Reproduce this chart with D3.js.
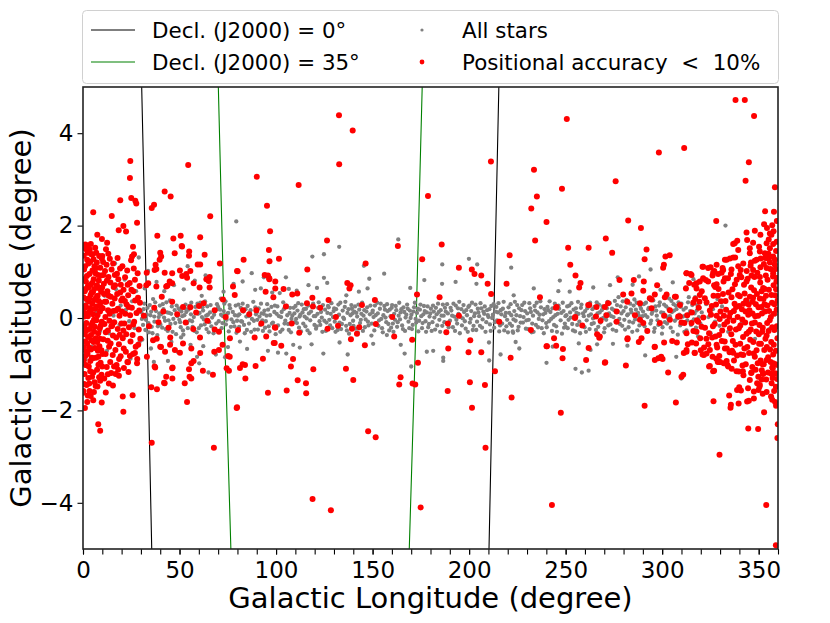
<!DOCTYPE html>
<html>
<head>
<meta charset="utf-8">
<script src="https://cdn.jsdelivr.net/npm/d3@7"></script>
<style>
  body { margin: 0; background: #fff; }
  text { font-family: "DejaVu Sans", sans-serif; fill: #000; }
</style>
</head>
<body>
<div id="chart"></div>
<script>
// Declination curves in galactic coordinates [l, b]
const decl0A = [[30.4, 5], [33.1, 0], [35.6, -5]];
const decl0B = [[215.4, 5], [212.8, 0], [210.3, -5]];
const decl35A = [[70.1, 5], [73.1, 0], [76.6, -5]];
const decl35B = [[175.7, 5], [172.6, 0], [169.0, -5]];

const xTicks = [0, 50, 100, 150, 200, 250, 300, 350];
const xMinorTicks = d3.range(0, 361, 10);
const yTicks = [-4, -2, 0, 2, 4];

// All stars [l, b]
const allStars = [
  [2.1,0.35],[4.5,-0.62],[6.8,0.12],[8.9,-0.28],[1.3,-0.9],[7.6,0.71],
  [11.2,0.48],[13.5,-0.33],[15.8,0.05],[17.1,0.62],[18.9,-0.15],[12.4,-0.71],[16.6,1.18],[19.5,0.27],
  [20.8,-0.41],[22.3,0.18],[23.9,-0.07],[25.4,0.36],[26.7,-0.22],[28.1,0.09],[29.3,-0.52],[21.6,0.83],[27.5,0.58],[24.6,-0.88],[28.9,1.31],
  [30.2,0.12],[31.1,-0.15],[31.8,0.31],[32.6,-0.04],[33.4,0.22],[34.1,-0.31],[34.9,0.06],[35.6,-0.19],[36.3,0.41],[37.0,-0.08],[37.8,0.15],[38.5,-0.37],[39.2,0.02],[39.8,0.27],[32.0,0.64],[35.2,-0.66],[38.1,0.78],[36.7,-0.95],[33.7,1.02],[30.7,-0.47],
  [30.5,-0.02],[31.4,0.19],[32.3,-0.26],[33.0,0.08],[33.9,-0.11],[34.6,0.28],[35.3,0.14],[36.0,-0.33],[36.9,0.03],[37.4,0.34],[38.8,-0.18],[39.5,0.1],
  [40.4,0.08],[41.0,-0.21],[41.7,0.19],[42.5,-0.06],[43.2,0.34],[43.9,-0.28],[44.6,0.11],[45.3,-0.13],[46.0,0.25],[46.8,-0.02],[47.5,0.17],[48.2,-0.35],[48.9,0.04],[49.6,0.21],[42.1,0.58],[45.8,-0.52],[47.1,0.71],[49.2,-0.74],[44.0,-0.93],[40.9,0.45],
  [40.1,-0.14],[41.3,0.3],[42.0,0.01],[42.8,-0.24],[43.6,0.12],[44.3,-0.05],[45.0,0.38],[45.7,0.09],[46.4,-0.3],[47.8,-0.11],[48.5,0.27],[49.9,-0.04],
  [50.3,-0.09],[51.0,0.14],[51.8,-0.27],[52.5,0.06],[53.1,0.29],[53.9,-0.11],[54.6,0.18],[55.3,-0.05],[56.1,0.33],[56.8,-0.19],[57.4,0.02],[58.2,0.24],[58.9,-0.31],[59.6,0.09],[52.2,0.62],[55.7,-0.58],[57.9,0.81],[59.1,-0.84],[54.2,1.12],[50.8,-0.42],
  [50.0,0.18],[50.6,-0.2],[51.4,0.04],[52.0,-0.36],[52.8,0.21],[53.5,0.13],[54.3,-0.22],[55.0,0.26],[55.9,0.08],[56.5,-0.07],[57.7,-0.28],[59.3,0.31],
  [60.4,0.11],[61.1,-0.16],[61.9,0.23],[62.6,-0.03],[63.2,0.36],[64.0,-0.24],[64.7,0.07],[65.4,-0.09],[66.1,0.28],[66.9,0.01],[67.6,-0.33],[68.3,0.15],[69.0,-0.12],[69.7,0.19],[62.3,-0.61],[65.9,0.66],[68.8,-0.79],[63.5,0.92],[65.0,-1.18],[60.2,-0.98],[61.5,0.48],
  [60.0,-0.22],[60.8,0.33],[61.6,0.02],[62.2,0.16],[63.0,-0.14],[63.8,0.05],[64.4,0.25],[65.1,-0.31],[65.8,0.12],[66.5,-0.18],[67.9,0.07],[69.4,0.3],
  [70.3,-0.07],[71.0,0.18],[71.8,-0.22],[72.5,0.04],[73.2,0.31],[74.0,-0.14],[74.7,0.09],[75.5,-0.29],[76.2,0.21],[76.9,-0.03],[77.6,0.13],[78.4,-0.18],[79.1,0.27],[79.8,-0.06],[72.8,0.57],[75.1,-0.63],[78.0,0.74],[73.6,-0.85],[79.4,2.09],[71.4,0.42],
  [70.0,0.24],[70.7,-0.29],[71.5,0.07],[72.2,-0.11],[72.9,0.15],[73.8,0.36],[74.4,-0.04],[75.2,0.11],[75.9,0.28],[76.6,-0.19],[77.9,-0.09],[78.7,0.06],[79.5,-0.32],
  [80.2,0.05],[80.9,-0.19],[81.7,0.22],[82.4,-0.08],[83.1,0.14],[83.8,-0.33],[84.6,0.03],[85.3,0.26],[86.0,-0.12],[86.8,0.17],[87.5,-0.02],[88.2,0.35],[88.9,-0.25],[89.6,0.08],[82.7,0.79],[87.4,0.97],[85.0,-0.67],[89.2,0.61],[81.3,-0.51],
  [80.5,0.29],[81.0,0.08],[81.9,-0.07],[82.7,0.31],[83.4,-0.15],[84.2,0.19],[84.9,-0.26],[85.7,0.04],[86.4,0.11],[87.1,-0.3],[88.5,-0.06],[89.3,0.23],
  [90.3,-0.04],[91.0,0.21],[91.8,-0.15],[92.5,0.1],[93.2,-0.28],[94.0,0.16],[94.7,-0.07],[95.4,0.3],[96.2,-0.18],[96.9,0.06],[97.6,0.24],[98.4,-0.1],[99.1,0.13],[99.8,-0.35],[92.1,0.64],[95.8,-0.71],[98.0,0.55],[93.7,0.88],
  [90.0,0.12],[90.6,-0.25],[91.4,0.03],[92.2,0.31],[92.9,-0.05],[93.6,0.09],[94.3,-0.21],[95.1,0.05],[95.9,0.18],[96.6,-0.29],[97.9,-0.12],[99.4,0.27],
  [100.3,0.09],[101.0,-0.16],[101.9,0.54],[102.6,0.02],[103.3,-0.25],[104.0,0.19],[104.8,-0.06],[105.1,0.88],[105.5,0.27],[106.2,-0.13],[107.0,0.11],[107.7,-0.31],[108.4,0.05],[109.1,0.22],[109.8,-0.09],[101.0,-0.75],[105.3,-0.77],[106.6,0.63],[108.9,-0.58],
  [100.0,-0.21],[100.7,0.25],[101.5,0.04],[102.2,-0.3],[102.9,0.13],[103.7,0.34],[104.4,-0.12],[105.8,0.06],[106.6,-0.26],[107.3,0.22],[108.0,-0.02],[109.5,0.1],
  [110.7,0.59],[110.4,-0.02],[111.1,0.16],[111.9,-0.21],[112.6,0.07],[113.3,0.29],[114.1,-0.12],[114.8,0.03],[115.5,0.2],[116.3,-0.27],[117.0,0.1],[117.7,-0.05],[118.4,-0.57],[118.8,1.33],[119.2,0.31],[119.9,-0.15],[112.3,-0.64],[116.8,0.71],
  [110.1,0.26],[110.8,-0.11],[111.5,0.32],[112.2,0.03],[112.9,-0.29],[113.7,0.12],[114.4,0.19],[115.2,-0.18],[115.9,-0.01],[116.7,0.27],[117.4,-0.33],[118.1,0.14],[119.6,0.04],
  [120.3,0.04],[121.2,0.65],[121.0,-0.18],[121.8,0.22],[122.5,-0.07],[123.3,0.13],[124.0,-0.3],[124.5,-0.77],[124.8,1.38],[124.8,0.87],[125.4,0.18],[126.1,-0.1],[126.5,0.76],[126.9,0.26],[127.6,-0.04],[128.3,0.09],[129.1,-0.22],[129.8,0.15],
  [120.7,-0.23],[121.5,0.09],[122.1,0.34],[122.9,-0.15],[123.7,0.01],[124.3,0.28],[125.0,-0.06],[125.8,-0.28],[126.6,0.11],[127.3,0.23],[128.0,-0.16],[128.7,0.32],[129.5,0.02],
  [130.4,-0.08],[131.1,0.19],[131.9,-0.26],[132.7,1.54],[132.9,-0.53],[132.6,0.07],[133.3,0.33],[134.1,-0.13],[134.8,0.01],[135.6,0.24],[136.4,0.49],[136.3,-0.17],[137.1,-0.79],[137.0,0.11],[137.8,-0.34],[138.6,0.06],[139.3,0.2],[139.9,-0.06],
  [130.1,0.21],[130.8,-0.3],[131.5,0.04],[132.3,0.29],[132.9,-0.1],[133.7,-0.24],[134.5,0.16],[135.2,-0.02],[135.9,0.35],[136.7,-0.27],[137.5,0.19],[138.2,-0.13],[139.0,0.28],[139.6,0.1],
  [140.5,0.14],[141.2,-0.23],[142.0,0.03],[142.9,0.57],[142.7,0.29],[143.5,-0.11],[144.2,0.09],[145.0,-0.28],[145.5,1.13],[145.7,0.17],[146.4,-0.03],[147.2,0.23],[147.4,0.64],[147.9,-0.16],[148.3,0.85],[148.6,0.08],[149.4,-0.38],[149.9,0.12],
  [140.1,-0.17],[140.9,0.25],[141.6,0.11],[142.3,-0.31],[143.1,0.18],[143.9,-0.04],[144.6,0.33],[145.3,0.05],[146.0,-0.2],[146.8,0.14],[147.6,-0.08],[148.9,0.27],[149.6,-0.12],
  [150.3,-0.56],[150.5,0.02],[151.2,0.27],[152.0,-0.14],[152.7,0.1],[153.4,-0.05],[154.2,0.31],[154.9,-0.22],[155.6,0.06],[156.0,0.96],[156.4,0.18],[157.1,-0.09],[157.4,-0.37],[157.8,0.15],[158.6,-0.27],[159.3,0.04],[159.9,0.22],
  [150.1,0.16],[150.9,-0.27],[151.6,0.06],[152.4,0.33],[153.0,-0.17],[153.8,0.2],[154.5,-0.02],[155.3,-0.31],[156.1,0.26],[156.7,0.01],[157.5,0.3],[158.2,-0.13],[158.9,0.18],[159.6,-0.21],
  [160.5,-0.12],[161.2,0.09],[162.0,0.26],[162.7,-0.19],[163.3,1.7],[163.5,0.05],[164.2,-0.03],[164.6,-0.58],[164.9,0.19],[165.7,-0.24],[166.4,0.13],[166.6,-0.77],[167.1,0.01],[167.9,0.29],[168.6,-0.08],[169.3,0.16],[169.5,0.65],[170.0,-1.05],
  [160.1,0.28],[160.8,-0.3],[161.6,-0.04],[162.3,0.17],[163.0,-0.09],[163.8,0.33],[164.5,0.12],[165.3,-0.16],[166.0,0.23],[166.8,-0.28],[167.5,0.07],[168.2,0.2],[169.0,-0.22],[169.7,0.0],
  [170.1,0.07],[170.8,-0.15],[171.5,0.23],[172.3,-0.02],[173.0,0.11],[173.7,-0.29],[174.5,0.18],[175.2,0.04],[175.9,-0.11],[176.8,0.82],[176.6,0.26],[177.4,-0.07],[178.1,-0.73],[178.1,0.12],[178.8,-0.2],[179.5,0.03],
  [170.4,-0.24],[171.1,0.14],[171.9,0.33],[172.6,-0.1],[173.4,0.2],[174.1,-0.06],[174.8,0.29],[175.6,-0.22],[176.3,0.08],[177.0,0.15],[177.7,-0.3],[178.5,0.25],[179.2,-0.13],[179.9,0.1],
  [180.2,0.2],[181.0,-0.09],[181.4,-0.71],[181.7,0.14],[182.4,-0.25],[183.2,0.08],[183.9,0.31],[184.6,-0.04],[185.3,0.17],[186.0,0.74],[186.1,1.16],[186.1,-0.17],[186.6,-0.86],[186.6,-0.93],[186.8,0.05],[187.5,0.22],[188.3,-0.31],[189.0,0.1],
  [180.6,-0.28],[181.3,0.27],[182.0,0.01],[182.8,0.22],[183.5,-0.16],[184.3,0.13],[185.0,-0.3],[185.7,0.05],[186.4,0.29],[187.2,-0.09],[187.9,0.14],[188.6,0.3],[189.4,-0.2],
  [190.1,-0.06],[190.8,0.16],[191.6,-0.2],[192.3,0.03],[193.0,0.78],[193.1,0.27],[193.8,-0.12],[194.5,0.09],[195.2,-0.33],[196.0,0.19],[196.7,-0.01],[197.4,0.13],[198.2,-0.23],[198.9,0.06],[199.6,0.24],[199.9,1.28],
  [190.4,0.22],[191.2,0.05],[191.9,0.31],[192.7,-0.28],[193.4,-0.04],[194.2,0.21],[194.9,0.35],[195.6,0.02],[196.3,-0.16],[197.1,0.28],[197.8,-0.07],[198.5,0.17],[199.3,-0.3],
  [200.4,-0.1],[201.1,0.15],[201.9,-0.26],[202.6,0.04],[203.3,0.29],[203.8,0.74],[204.1,-0.08],[204.2,1.16],[204.8,0.12],[205.6,-0.17],[206.3,0.21],[207.0,-0.03],[207.8,0.09],[208.5,-0.3],[209.3,0.17],[210.3,-0.53],[210.4,-0.92],
  [200.1,0.27],[200.8,-0.02],[201.5,0.33],[202.3,-0.17],[203.0,0.1],[203.7,-0.26],[204.5,0.2],[205.2,0.04],[205.9,0.32],[206.7,-0.21],[207.4,0.14],[208.1,0.25],[208.9,-0.09],[209.7,0.06],
  [210.0,0.02],[210.8,-0.14],[211.5,0.26],[212.3,0.07],[213.0,-0.21],[213.8,0.14],[214.5,-0.05],[215.2,0.32],[216.0,-0.16],[216.3,-0.79],[216.7,0.08],[217.5,0.2],[218.2,-0.27],[219.0,0.11],[219.7,-0.04],
  [210.5,0.19],[211.2,-0.28],[211.9,0.0],[212.7,0.3],[213.4,-0.09],[214.1,0.24],[214.9,0.12],[215.6,-0.29],[216.4,0.17],[217.1,-0.12],[217.9,0.35],[218.6,0.04],[219.3,-0.18],
  [220.4,0.23],[221.1,-0.12],[221.8,1.09],[221.9,0.06],[222.6,-0.29],[222.8,-0.32],[223.1,0.49],[223.4,0.15],[224.1,-0.52],[224.1,-0.06],[224.9,0.28],[225.6,-0.19],[226.0,-0.66],[226.4,0.04],[227.1,0.17],[227.9,-0.1],[228.6,0.33],[229.4,-0.23],
  [220.1,-0.31],[220.8,0.11],[221.5,0.3],[222.2,-0.17],[223.0,-0.03],[223.7,0.35],[224.5,0.06],[225.2,-0.27],[225.9,0.21],[226.7,-0.1],[227.5,0.28],[228.2,0.02],[229.0,0.15],[229.7,-0.05],
  [230.1,0.1],[230.9,-0.04],[231.6,0.21],[232.4,-0.31],[233.1,0.05],[233.9,0.26],[234.6,-0.15],[235.4,0.12],[236.1,-0.02],[236.9,0.36],[237.6,-0.22],[238.4,0.08],[239.1,0.19],[239.9,-0.11],[240.1,-0.97],[233.5,0.64],
  [230.5,-0.24],[231.2,0.32],[232.0,0.13],[232.7,-0.12],[233.4,-0.3],[234.2,0.16],[235.0,0.33],[235.7,-0.2],[236.5,0.07],[237.2,0.23],[238.0,-0.05],[238.7,-0.33],[239.5,0.11],
  [240.6,0.24],[241.4,-0.07],[242.1,0.13],[242.9,-0.28],[243.6,0.02],[244.4,0.31],[245.1,-0.18],[245.9,0.09],[246.6,0.2],[247.0,0.81],[247.4,-0.05],[248.1,-0.34],[248.9,0.15],[249.6,-0.12],[243.3,-0.62],[246.2,0.58],
  [240.2,-0.2],[241.0,0.17],[241.7,0.36],[242.5,-0.02],[243.2,0.21],[244.0,-0.15],[244.7,0.06],[245.5,-0.3],[246.3,0.27],[247.8,0.11],[248.5,0.33],[249.2,-0.21],[249.9,0.04],
  [250.4,0.06],[251.1,-0.22],[251.9,0.27],[252.6,0.01],[253.4,-0.13],[254.1,0.18],[254.9,-0.29],[255.1,-1.1],[255.6,0.11],[256.4,0.35],[257.1,-0.08],[257.9,0.22],[258.4,-1.18],[258.6,-0.17],[259.4,0.04],[252.1,0.57],[256.8,-0.55],
  [250.0,-0.19],[250.8,0.25],[251.5,-0.04],[252.3,0.12],[253.0,0.32],[253.8,-0.27],[254.5,0.03],[255.3,0.21],[256.0,-0.15],[256.7,0.09],[257.5,-0.33],[258.2,0.29],[259.0,0.1],[259.8,-0.2],
  [260.1,0.15],[260.9,-0.05],[261.6,0.29],[261.9,-1.14],[262.4,-0.24],[262.9,-0.69],[263.1,0.08],[263.9,0.19],[264.6,-0.11],[265.4,0.03],[266.1,0.34],[266.3,-0.57],[266.9,-0.19],[267.6,0.12],[268.4,-0.02],[269.1,0.25],[269.9,-0.31],[264.3,0.66],
  [260.5,-0.3],[261.2,0.21],[262.0,0.05],[262.7,0.33],[263.5,-0.13],[264.2,-0.01],[264.9,0.24],[265.7,-0.26],[266.5,0.1],[267.2,0.29],[268.0,-0.1],[268.7,0.17],[269.5,0.0],
  [270.6,0.07],[271.4,0.21],[272.1,-0.16],[272.9,0.32],[273.6,0.04],[274.4,-0.25],[274.5,-0.56],[275.1,0.17],[275.9,-0.08],[276.6,0.28],[277.4,0.45],[278.1,-0.13],[278.9,0.1],[279.6,0.36],[273.0,0.71],[277.0,0.88],
  [270.2,-0.22],[271.0,-0.04],[271.7,0.35],[272.5,0.1],[273.2,-0.14],[274.0,0.2],[274.8,0.02],[275.5,0.37],[276.2,-0.28],[277.0,0.14],[277.8,-0.02],[278.5,0.25],[279.3,-0.17],
  [280.4,-0.04],[281.1,0.23],[281.9,0.06],[282.0,-0.6],[282.6,-0.2],[283.4,0.31],[284.1,0.12],[284.9,-0.1],[285.6,0.4],[286.4,0.18],[287.1,-0.27],[287.9,0.05],[288.6,0.26],[289.4,-0.07],[284.7,0.72],[288.0,0.9],
  [280.0,0.15],[280.8,-0.25],[281.5,0.39],[282.3,0.08],[283.0,-0.08],[283.8,0.18],[284.5,-0.3],[285.2,0.27],[286.0,-0.03],[286.8,0.33],[287.5,0.11],[288.2,-0.16],[289.0,0.2],[289.8,0.04],
  [290.1,0.14],[290.9,-0.18],[291.2,-0.81],[291.6,0.33],[292.4,0.02],[293.1,0.22],[293.9,-0.12],[294.0,1.05],[294.6,0.09],[295.4,0.38],[296.1,-0.22],[296.9,0.16],[297.6,-0.05],[298.4,0.27],[299.1,0.61],[299.9,-0.34],
  [290.5,0.3],[291.3,0.06],[292.0,-0.26],[292.8,0.19],[293.5,0.41],[294.3,-0.06],[295.0,0.14],[295.8,-0.3],[296.5,0.25],[297.2,0.05],[298.0,-0.15],[298.8,0.34],[299.5,0.12],
  [300.6,0.11],[301.4,-0.09],[302.1,0.25],[302.9,-1.18],[302.9,0.0],[303.6,0.42],[304.4,-0.21],[305.1,0.13],[305.9,0.3],[306.6,-0.06],[307.3,-0.84],[307.4,0.19],[308.1,-0.36],[308.9,0.07],[309.6,0.24],[309.9,-1.31],[305.5,0.77],
  [300.2,-0.2],[301.0,0.29],[301.8,0.05],[302.5,-0.12],[303.2,0.2],[304.0,0.04],[304.8,0.37],[305.5,-0.3],[306.2,0.16],[307.0,0.27],[307.8,-0.01],[308.5,0.34],[309.3,-0.16],
  [310.4,-0.12],[311.1,0.18],[311.9,0.05],[312.6,-0.27],[313.4,0.34],[314.1,0.1],[314.9,-0.15],[315.6,0.28],[316.4,-0.03],[317.1,0.45],[317.9,0.16],[318.6,-0.4],[319.4,0.22],[316.2,0.84],[312.2,0.66],
  [310.0,0.31],[310.8,0.03],[311.5,-0.3],[312.3,0.22],[313.0,-0.05],[313.8,0.45],[314.5,0.15],[315.3,-0.08],[316.0,0.35],[316.8,0.1],[317.5,-0.21],[318.2,0.28],[319.0,0.02],[319.8,-0.12],
  [320.5,0.12],[321.6,-0.21],[322.8,0.3],[324.0,0.02],[325.1,-0.33],[326.3,0.19],[327.4,-0.08],[328.6,0.41],[329.7,-0.17],[332.8,2.0],
  [331.0,0.25],[334.2,-0.3],[337.5,0.14],[341.0,-0.12],[344.6,0.35],[348.1,-0.45],[352.0,0.2],[355.5,-0.24],[358.7,0.08]
];

// Stars with positional accuracy < 10% [l, b]
const accurateStars = [
  // l 0-30 core
  [0.3,0.12],[0.6,-0.35],[0.9,0.58],[1.2,-0.82],[1.4,0.27],[1.7,-0.11],[2.0,0.91],[2.2,-0.56],[2.5,0.04],[2.8,1.18],[3.0,-1.05],[3.3,0.43],[3.6,-0.24],[3.9,0.72],[4.1,-0.68],[4.4,0.19],[4.7,-1.27],[4.9,1.03],[0.4,1.35],[0.8,-1.21],
  [1.5,0.79],[2.6,-0.41],[3.1,0.36],[3.8,-0.93],[4.5,0.55],[0.2,-0.63],[1.1,1.12],[1.9,-1.45],[2.9,0.66],[4.2,-0.15],[0.5,0.84],[3.4,-1.58],[1.6,-0.72],[4.8,0.31],[2.4,1.41],[0.7,0.03],[3.7,1.21],[1.3,-0.29],[0.1,-1.62],[4.3,-0.48],
  [0.15,0.45],[0.35,-0.92],[0.55,1.05],[0.75,-0.18],[0.95,0.22],[1.15,-0.51],[1.35,0.63],[1.55,-1.02],[1.75,0.41],[1.95,-0.26],[2.15,1.26],[2.35,-0.78],[2.55,0.69],[2.75,-1.3],[2.95,0.12],[3.15,-0.64],[3.35,0.95],[3.55,0.21],[3.75,-1.15],[3.95,0.5],[4.15,-0.37],[4.35,1.38],[4.55,-0.86],[4.75,0.76],[4.95,-0.1],
  [0.25,1.52],[1.85,1.48],[3.25,-1.42],[0.65,-1.43],[5.65,-1.6],[6.85,1.41],[2.45,-1.68],[4.05,1.6],
  [5.2,0.08],[5.5,-0.52],[5.8,0.63],[6.1,-0.19],[6.4,0.97],[6.7,-0.86],[7.0,0.25],[7.3,-1.12],[7.6,0.48],[7.9,-0.33],[8.2,0.81],[8.5,-0.61],[8.8,0.14],[9.1,-0.97],[9.4,0.57],[9.7,-0.08],[5.4,1.27],[6.0,-1.39],
  [6.9,1.08],[7.7,-0.71],[8.4,1.34],[9.0,0.33],[9.6,-1.23],[5.9,0.39],[6.6,-0.44],[8.0,-1.01],[9.3,0.92],[5.1,-0.87],[7.2,0.71],[8.7,-0.22],[6.3,1.52],[9.9,0.66],[7.5,-1.48],[5.7,-0.04],[8.9,-1.36],
  [5.15,0.56],[5.35,-1.18],[5.55,0.84],[5.75,-0.3],[5.95,1.12],[6.15,-0.65],[6.35,0.2],[6.55,-1.47],[6.75,0.44],[6.95,-0.05],[7.15,1.2],[7.35,-0.52],[7.55,0.06],[7.75,0.93],[7.95,-0.84],[8.15,0.37],[8.35,-1.28],[8.55,0.64],[8.75,-0.45],[8.95,1.09],[9.15,-0.17],[9.35,0.23],[9.55,-0.7],[9.75,1.29],[9.95,-1.05],
  [10.2,0.21],[10.5,-0.46],[10.8,0.74],[11.1,-0.13],[11.4,1.02],[11.7,-0.78],[12.0,0.35],[12.3,-1.06],[12.6,0.58],[12.9,-0.27],[13.2,0.89],[13.5,-0.62],[13.8,0.09],[14.1,-0.95],[14.4,0.46],[14.7,-0.18],
  [10.4,1.21],[11.0,-1.31],[12.2,1.15],[13.0,0.17],[13.9,1.28],[14.6,-1.19],[10.9,0.52],[12.8,-0.49],[14.2,0.77],[11.6,0.02],[13.4,-1.42],[11.9,1.49],
  [10.1,-0.78],[10.6,0.93],[11.3,0.35],[11.8,-0.31],[12.4,0.81],[12.9,-1.22],[13.3,0.48],[13.7,-0.06],[14.3,-0.55],[14.8,1.05],
  [15.2,0.31],[15.5,-0.38],[15.9,0.67],[16.2,-0.09],[16.5,0.93],[16.8,-0.69],[17.1,0.16],[17.4,-1.02],[17.7,0.52],[18.0,-0.24],[18.3,0.84],[18.6,-0.57],[18.9,0.05],[19.2,1.07],[19.5,-0.83],[19.8,0.38],
  [15.6,1.18],[16.9,-1.21],[17.9,1.3],[19.0,-0.36],[15.4,-0.8],[18.2,-1.12],[16.4,0.42],[19.6,0.72],
  [15.1,-0.17],[15.7,0.15],[16.1,-1.05],[16.6,0.71],[17.2,-0.42],[17.6,0.96],[18.1,0.2],[18.7,-0.89],[19.3,0.55],[19.9,-0.12],
  [20.2,0.14],[20.6,-0.44],[21.0,0.61],[21.4,-0.12],[21.8,0.88],[22.2,-0.73],[22.6,0.29],[23.0,-0.95],[23.4,0.49],[23.8,-0.2],[24.2,0.76],[24.6,-0.51],[20.4,1.12],[21.2,-1.08],[22.9,1.03],[24.4,0.06],[21.7,0.37],[23.6,-1.17],[20.9,-0.27],[24.9,1.25],
  [20.5,0.42],[21.1,-0.66],[21.9,0.09],[22.4,-0.35],[23.1,0.72],[23.7,0.24],[24.3,-0.82],
  [25.3,0.22],[25.7,-0.37],[26.1,0.58],[26.5,-0.08],[26.9,0.83],[27.3,-0.62],[27.7,0.11],[28.1,-0.89],[28.5,0.44],[28.9,-0.25],[29.3,0.69],[29.7,-0.45],[26.3,1.07],[28.3,0.97],[25.9,-0.78],[29.1,0.16],
  [25.1,0.61],[26.0,-0.14],[27.0,0.38],[28.6,-0.58],[29.5,0.33],
  // l 0-30 outskirts
  [1.2,1.59],[2.4,1.57],[7.4,1.8],[9.8,1.71],[5.0,1.38],[10.0,1.34],[13.1,1.39],[25.9,1.54],[26.4,1.38],[25.4,1.33],[3.5,1.48],[12.5,1.63],
  [24.5,3.4],[24.3,3.03],[25.0,2.6],[27.1,2.54],[27.6,2.48],[5.3,2.29],[19.3,2.55],[14.9,2.21],[18.5,1.9],[20.9,1.99],[22.3,1.87],[28.0,2.06],
  [2.2,-1.82],[5.3,-1.78],[9.7,-1.83],[7.9,-2.3],[8.9,-2.44],[20.9,-2.03],[25.7,-1.67],[15.5,-1.46],[18.6,-1.25],[20.6,-1.7],[23.3,-0.96],[1.0,-1.95],[4.0,-1.69],[11.8,-1.61],[0.2,-1.58],[26.9,-0.76],[28.0,-0.98],
  // l 30-100
  [54.5,3.31],[35.6,2.38],[36.8,2.45],[42.3,2.74],[45.4,2.63],[65.9,2.2],[90.0,3.06],[95.3,2.43],
  [38.5,1.78],[46.8,1.72],[50.6,1.78],[51.3,1.55],[60.7,1.75],[70.9,1.18],[47.5,1.4],[40.0,1.41],[40.5,1.33],[55.0,1.44],[54.9,1.35],[63.0,1.37],[37.6,1.15],[33.0,0.98],[38.0,1.06],[60.7,1.16],
  [65.6,0.89],[65.1,0.8],[50.2,1.03],[53.5,0.95],[53.9,0.87],[44.9,0.79],[43.7,0.7],[80.1,1.01],[83.2,1.26],[95.8,0.92],[96.5,0.84],[99.6,0.79],[39.7,1.26],[94.1,0.93],[79.8,1.02],[51.1,1.56],
  [42.3,0.98],[46.2,0.97],[51.4,0.91],[55.6,1.02],[59.4,1.16],[63.9,0.84],[65.6,0.66],[60.4,0.66],[57.3,0.75],[46.2,0.75],[43.1,0.68],[38.0,0.68],[32.8,0.71],[37.1,1.04],[33.8,0.75],
  [40.8,0.46],[46.2,0.35],[51.8,0.24],[55.6,0.23],[60.1,0.26],[62.5,0.32],[68.2,0.17],[72.5,0.4],[77.7,0.68],[78.6,0.5],[82.9,0.17],[89.8,0.17],[94.6,0.57],[99.6,0.64],
  [96.9,1.88],[96.3,1.47],[96.6,1.23],[96.5,0.86],[101.5,1.28],
  [31.5,0.05],[34.2,-0.18],[36.9,0.22],[39.1,-0.09],[41.6,0.14],[44.3,-0.21],[48.8,0.08],[53.2,-0.1],[58.6,0.12],[64.4,-0.06],[73.9,0.02],[86.1,0.08],[92.4,-0.12],
  [35.6,-2.7],[35.4,-1.5],[38.3,-1.54],[53.9,-1.82],[67.8,-2.81],[79.6,-1.95],[95.8,-1.62],[37.4,-1.07],[46.4,-1.07],[42.0,-1.4],[46.3,-1.31],[56.1,-1.31],[54.9,-1.11],[56.1,-0.98],[57.3,-0.93],
  [68.0,-0.73],[70.4,-0.69],[75.2,-0.82],[74.4,-1.09],[75.6,-1.14],[81.3,-1.08],[82.7,-1.0],[83.9,-1.02],[84.1,-1.31],[89.4,-1.04],[93.2,-0.88],[99.3,-0.54],[72.3,-0.58],[60.6,-0.42],[57.1,-0.24],
  [47.6,-0.69],[50.2,-0.75],[45.1,-0.58],[40.4,-0.63],[42.5,-0.73],[38.2,-0.45],[33.1,-0.84],[36.3,-0.48],[40.0,-0.62],[45.2,-0.42],[51.8,-0.55],[56.1,-0.66],[60.7,-0.76],[68.2,-0.25],[70.4,-0.3],
  [76.1,-0.44],[80.3,-0.26],[88.9,-0.42],[76.0,-0.84],[79.8,-1.93],[67.3,-1.23],[62.1,-1.14],[55.2,-1.27],[52.7,-1.41],[46.2,-1.09],[43.1,-1.27],[37.1,-1.05],[42.3,-1.41],[94.9,-0.4],[99.4,-0.2],
  // l 100-320
  [132.6,4.39],[139.7,4.06],[132.7,3.33],[111.7,2.88],[211.3,3.39],[178.7,2.64],[233.6,3.21],[235.1,2.63],[232.2,2.37],[240.1,2.08],[234.2,1.68],[126.4,1.68],[163.1,1.56],[185.8,1.59],
  [116.2,1.05],[146.4,1.18],[175.7,1.27],[194.7,1.09],[201.4,1.05],[202.8,0.95],[206.3,0.92],[209.6,0.74],[221.0,1.36],[219.4,0.74],
  [103.9,0.63],[98.6,0.45],[105.1,0.25],[108.4,0.51],[111.0,0.53],[116.0,0.32],[118.8,0.44],[119.1,0.25],[122.9,0.22],[127.2,0.39],[136.9,0.76],[138.6,0.71],[138.0,0.64],[144.5,0.28],[151.2,0.39],
  [131.0,0.02],[160.2,0.02],[173.0,0.51],[184.7,0.45],[211.4,0.52],[194.7,0.05],[236.7,0.45],[245.0,0.22],[245.3,0.24],
  [250.6,4.31],[248.1,2.8],[298.3,3.58],[311.4,3.68],[275.9,2.96],[282.4,2.11],[289.0,1.95],[328.0,2.1],[251.3,1.52],[261.9,1.52],[270.8,1.72],[274.1,1.41],[252.4,1.15],[255.1,0.92],[257.7,0.76],[257.0,0.66],
  [291.9,1.48],[290.9,1.27],[301.7,1.33],[303.9,1.36],[300.9,1.15],[300.5,1.09],[277.9,0.82],[285.3,0.82],[290.5,0.79],[297.4,0.71],
  [279.8,0.51],[281.9,0.35],[288.5,0.32],[293.6,0.43],[296.2,0.51],[302.3,0.51],[306.6,0.46],[309.2,0.28],[312.6,0.97],[315.2,0.93],[312.3,0.64],[317.8,0.64],[319.5,0.79],[321.2,1.11],
  [272.0,0.32],[276.4,0.14],[266.0,0.24],[261.7,0.28],[271.2,0.06],[254.8,0.0],[285.9,0.06],[301.0,0.05],[262.2,0.28],[265.7,0.03],[268.1,-0.06],[270.3,0.24],[266.3,-0.35],[267.7,-0.4],
  [284.1,0.53],[290.2,0.59],[294.5,0.4],[301.4,0.45],[307.1,0.46],[316.1,0.33],[319.5,0.5],[322.1,0.43],[276.4,-0.08],[294.5,0.21],[304.0,0.17],[308.3,0.03],[313.0,0.06],[304.0,-0.04],[318.7,-0.08],[315.2,-0.11],[310.0,-0.1],[298.8,-0.11],
  [288.5,-0.04],[290.2,-0.11],[309.2,0.03],[311.5,-0.11],[312.6,-0.33],[317.8,-0.3],[320.4,-0.19],
  [118.9,-3.92],[128.4,-4.16],[174.9,-4.1],[147.7,-2.45],[151.6,-2.58],[208.5,-2.81],[201.5,-1.94],[222.0,-1.72],[188.9,-1.58],[200.4,-1.39],[208.2,-1.45],[213.4,-1.15],[221.5,-0.86],[173.5,-0.97],
  [170.7,-1.42],[172.1,-1.44],[163.8,-1.44],[164.5,-1.28],[140.0,-1.34],[136.2,-1.1],[119.3,-1.11],[115.6,-1.63],[115.5,-1.41],[111.2,-1.35],[105.5,-1.57],[107.7,-1.05],[108.8,-0.89],
  [98.8,-0.54],[102.7,-0.6],[99.6,-0.21],[108.1,-0.12],[112.0,-0.32],[126.7,-0.23],[132.1,-0.17],[138.8,-0.46],[139.3,-0.23],[141.9,-0.34],[143.1,-0.2],[146.0,-0.59],[151.7,-0.13],[161.2,-0.4],[170.5,-0.47],
  [188.2,-0.31],[189.2,-0.66],[189.0,-0.12],[199.7,-0.74],[200.6,-0.48],[206.3,-0.74],[215.6,-0.08],[232.0,-0.26],[240.1,-0.61],
  [242.9,-4.05],[247.5,-2.05],[290.9,-1.9],[307.1,-1.83],[326.6,-1.8],[240.3,-0.61],[245.1,-0.6],[244.0,-0.44],[248.4,-0.87],[248.6,-0.67],[261.9,-0.65],[267.4,-0.43],[282.0,-0.46],
  [287.9,-0.52],[292.3,-0.28],[296.1,-0.63],[301.0,-0.53],[305.2,-0.5],[307.6,-0.53],[311.2,-0.76],[312.6,-0.69],[316.8,-0.75],[313.3,-0.57],[315.4,-0.53],[321.7,-0.64],[258.6,-0.16],[255.0,0.02],
  [260.6,-0.91],[270.5,-0.96],[281.2,-1.03],[296.2,-0.91],[298.0,-0.87],[299.5,-0.84],[310.9,-1.23],[310.0,-1.27],[303.1,-1.18],[289.3,-0.44],[282.1,-0.44],[296.2,-0.62],[300.2,-0.89],[270.3,-0.97],
  [320.9,-0.79],[323.0,-0.77],[326.1,-0.84],[324.3,-1.05],[326.4,-1.15],[316.9,-0.76],[321.6,-0.8],[312.6,-0.73],
  // l 320-360 core and outskirts
  [338.0,4.72],[342.8,4.72],[347.6,4.37],[344.9,3.37],[343.2,2.97],[358.4,2.83],[353.3,2.31],
  [352.8,2.03],[343.7,1.85],[348.0,1.89],[350.9,1.8],[356.6,1.8],[357.0,2.01],[355.8,1.83],[337.6,1.62],[338.9,1.67],[344.0,1.69],[347.1,1.63],[350.2,1.54],[354.1,1.62],[357.5,1.6],
  [339.4,1.47],[333.4,1.26],[336.8,1.31],[342.0,1.18],[345.4,1.4],[348.9,1.26],[353.2,1.4],[354.9,1.29],[357.5,1.33],[336.8,1.6],[332.5,1.26],[335.1,1.29],[328.2,1.15],[331.3,1.08],[323.8,1.08],
  [345.4,1.51],[350.6,1.44],[355.8,1.51],[358.4,1.26],
  [312.6,0.97],[314.7,0.95],[320.9,1.11],[325.1,1.1],[326.4,0.98],[329.0,0.95],[321.2,0.86],[314.0,0.76],[317.8,0.75],[323.8,0.79],[328.2,0.73],[332.5,0.86],[331.6,1.04],[335.9,1.05],[340.2,0.93],
  [343.7,0.79],[347.1,1.04],[350.6,0.89],[354.1,1.08],[357.5,0.97],[359.2,0.79],
  [315.4,0.12],[316.2,-0.28],[317.1,0.41],[318.0,-0.05],[318.9,0.22],[319.7,-0.44],[320.5,0.58],[321.3,0.01],[322.2,-0.21],[323.0,0.34],[323.9,-0.57],[324.7,0.16],[316.6,0.72],[320.0,-0.7],[322.6,0.82],[324.3,-0.33],
  [322.9,-0.45],[319.3,0.35],[317.6,-0.55],
  [325.3,0.07],[325.9,-0.42],[326.6,0.48],[327.2,-0.13],[327.9,0.29],[328.5,-0.64],[329.2,0.63],[329.8,-0.02],[330.5,0.36],[331.1,-0.27],[331.8,0.79],[332.4,-0.51],[333.1,0.18],[333.7,-0.08],[334.4,0.55],[334.9,-0.74],
  [326.1,0.92],[328.0,-0.88],[330.8,0.98],[333.4,-0.93],[332.0,0.05],[327.5,0.67],[329.5,-0.37],
  [325.7,0.26],[326.3,-0.18],[326.9,0.71],[327.6,-0.4],[328.2,0.05],[328.9,0.48],[329.6,-0.82],[330.2,0.14],[330.9,-0.5],[331.5,0.52],[332.2,-0.14],[332.8,0.37],[333.5,-0.66],[334.1,0.86],[334.7,0.02],
  [335.3,0.11],[335.8,-0.35],[336.4,0.62],[336.9,-0.06],[337.5,0.31],[338.0,-0.58],[338.6,0.83],[339.1,0.02],[339.7,-0.22],[340.2,0.47],[340.8,-0.79],[341.3,0.19],[341.9,-0.41],[342.4,0.72],[343.0,-0.1],
  [343.5,0.38],[344.1,-0.63],[344.6,0.07],[335.6,0.95],[337.2,-0.92],[339.4,1.12],[341.6,-1.03],[343.8,1.02],[336.2,-0.71],[338.3,0.24],[340.5,-0.16],[342.7,0.53],[344.9,-0.3],[337.8,1.31],[342.1,-1.24],
  [335.1,-0.22],[335.9,0.45],[336.6,-0.5],[337.1,0.15],[337.7,0.73],[338.2,-0.25],[338.8,-0.81],[339.3,0.5],[339.9,0.26],[340.4,-0.56],[341.0,0.88],[341.5,-0.03],[342.1,0.31],[342.6,-0.66],[343.2,0.14],[343.7,-0.34],[344.3,0.85],[344.8,0.29],
  [345.2,0.17],[345.6,-0.47],[346.1,0.66],[346.5,-0.12],[346.9,0.35],[347.4,-0.77],[347.8,0.89],[348.2,0.04],[348.7,-0.29],[349.1,0.52],[349.5,-0.98],[349.9,0.23],[350.4,-0.15],[350.8,0.77],[351.2,-0.56],[351.7,0.1],
  [345.8,1.13],[346.7,-1.06],[348.0,1.24],[349.8,-1.27],[351.0,1.29],[347.1,0.44],[350.1,-0.35],[351.5,0.58],
  [345.0,-0.76],[345.4,0.46],[345.9,-0.25],[346.3,0.92],[346.8,0.1],[347.2,-0.52],[347.6,0.6],[348.0,-0.1],[348.5,0.3],[348.9,-0.7],[349.3,0.98],[349.7,0.05],[350.2,-0.56],[350.6,0.42],[351.0,-0.92],[351.4,0.24],[351.8,-0.3],
  [352.1,-0.21],[352.5,0.41],[352.9,-0.69],[353.3,0.14],[353.7,0.92],[354.1,-0.38],[354.5,0.27],[354.9,-0.85],[355.3,0.61],[355.7,-0.05],[356.1,1.06],[356.5,-0.52],[356.9,0.33],[357.3,-1.09],[357.7,0.71],
  [358.1,-0.26],[358.5,0.49],[358.9,-0.71],[359.3,0.18],[359.7,-0.44],[352.7,1.17],[353.9,-1.33],[355.0,1.39],[356.3,0.02],[357.5,-0.79],[358.3,1.16],[359.5,0.87],[354.4,-0.11],[356.7,-1.41],[359.0,1.45],
  [359.8,-1.02],[353.1,0.63],[355.9,-0.68],[357.9,0.09],
  [352.3,0.65],[352.6,-1.0],[353.0,0.3],[353.5,-0.45],[353.8,0.48],[354.2,-0.63],[354.6,0.83],[355.1,-0.28],[355.4,0.15],[355.8,1.2],[356.2,-0.95],[356.6,0.5],[357.0,-0.2],[357.4,0.9],[357.8,-0.58],
  [358.2,0.3],[358.6,-1.0],[359.0,0.62],[359.4,-0.18],[359.8,0.38],
  [353.4,1.3],[354.8,-1.18],[356.0,1.32],[357.2,-1.3],[358.8,1.06],[359.6,-1.32],[352.2,-1.2],[350.9,1.1],[348.4,-1.12],[346.0,1.2],[343.3,-1.0],[340.7,1.04],[336.0,-1.1],[331.9,-0.98],[327.0,1.02],
  [355.2,1.7],[357.7,1.88],[359.3,1.65],[356.4,-1.7],[358.5,-1.82],[359.9,-2.3],[359.4,2.1],[354.3,1.95],[357.9,2.3],[359.7,-2.6],
  [353.9,-4.05],[358.9,-4.92],[329.7,-2.96],[344.6,-2.39],[349.7,-2.4],[352.8,-2.04],[335.4,-1.94],[334.7,-1.68],[339.6,-1.85],[344.9,-1.79],[359.0,-1.9],[357.0,-1.77],[358.0,-1.58],
  [347.5,-1.59],[349.9,-1.56],[352.1,-1.64],[339.9,-1.5],[340.8,-1.57],[345.4,-1.34],[349.2,-1.41],[350.4,-1.49],[352.0,-1.0],[351.6,-1.13],[357.0,-1.07],[356.3,-1.2],[358.9,-1.2],
  [339.7,-1.16],[341.8,-1.15],[346.1,-1.19],[333.8,-1.02],[330.0,-0.95],[328.8,-0.95],[335.6,-1.88],[344.0,-1.81],[347.5,-1.74],[338.8,-1.56],[344.5,-1.52],[350.6,-1.45],[351.5,-1.33],[352.3,-1.21],
  [354.1,-1.6],[346.3,-1.18],[338.5,-1.15],[324.7,-1.04],[326.9,-1.14],[329.5,-0.95],[334.2,-1.05],[324.7,-0.69],[328.2,-0.58],[332.5,-0.66],[336.8,-0.75],[342.0,-0.8],[348.0,-0.84],[354.1,-0.91],
  [357.5,-0.98],[358.4,-1.2],[358.9,-1.49]
];

const width = 830;
const height = 623;
const margin = { left: 83, right: 52, top: 87, bottom: 74 };

const x = d3.scaleLinear()
  .domain([0, 360])
  .range([margin.left, width - margin.right]);

const y = d3.scaleLinear()
  .domain([-5, 5])
  .range([height - margin.bottom, margin.top]);

const svg = d3.select('#chart')
  .append('svg')
  .attr('width', width)
  .attr('height', height);

svg.append('defs').append('clipPath')
  .attr('id', 'plot-clip')
  .append('rect')
  .attr('x', x(0))
  .attr('y', y(5))
  .attr('width', x(360) - x(0))
  .attr('height', y(-5) - y(5));

const plot = svg.append('g').attr('clip-path', 'url(#plot-clip)');

const line = d3.line()
  .x(d => x(d[0]))
  .y(d => y(d[1]));

[[decl0A, '#000000'], [decl0B, '#000000'], [decl35A, '#008000'], [decl35B, '#008000']]
  .forEach(([pts, color]) => {
    plot.append('path')
      .datum(pts)
      .attr('d', line)
      .attr('fill', 'none')
      .attr('stroke', color)
      .attr('stroke-width', 1.1);
  });

plot.selectAll('.star')
  .data(allStars)
  .enter()
  .append('circle')
  .attr('class', 'star')
  .attr('cx', d => x(d[0]))
  .attr('cy', d => y(d[1]))
  .attr('r', 2.15)
  .attr('fill', '#808080');

plot.selectAll('.accurate')
  .data(accurateStars)
  .enter()
  .append('circle')
  .attr('class', 'accurate')
  .attr('cx', d => x(d[0]))
  .attr('cy', d => y(d[1]))
  .attr('r', 3.0)
  .attr('fill', '#ff0000');

// axes
const xAxis = d3.axisBottom(x).tickValues(xTicks).tickSize(5.5).tickPadding(7);
const xMinor = d3.axisBottom(x).tickValues(xMinorTicks).tickSize(5.5).tickFormat('');
const yAxis = d3.axisLeft(y).tickValues(yTicks).tickSize(5.5).tickPadding(4)
  .tickFormat(d => d < 0 ? '\u2212' + Math.abs(d) : d);

svg.append('g')
  .attr('transform', 'translate(0,' + y(-5) + ')')
  .call(xMinor)
  .call(g => g.select('.domain').remove());

svg.append('g')
  .attr('transform', 'translate(0,' + y(-5) + ')')
  .call(xAxis)
  .call(g => g.select('.domain').remove())
  .selectAll('text')
  .style('font-size', '23px')
  .style('font-family', '"DejaVu Sans"');

svg.append('g')
  .attr('transform', 'translate(' + x(0) + ',0)')
  .call(yAxis)
  .call(g => g.select('.domain').remove())
  .selectAll('text')
  .style('font-size', '23px')
  .style('font-family', '"DejaVu Sans"');

svg.selectAll('.tick line').attr('stroke', '#000').attr('stroke-width', 1.1);

svg.append('rect')
  .attr('x', x(0))
  .attr('y', y(5))
  .attr('width', x(360) - x(0))
  .attr('height', y(-5) - y(5))
  .attr('fill', 'none')
  .attr('stroke', '#222')
  .attr('stroke-width', 1.6);

svg.append('text')
  .attr('x', (x(0) + x(360)) / 2)
  .attr('y', 608)
  .attr('text-anchor', 'middle')
  .style('font-size', '29px')
  .text('Galactic Longitude (degree)');

svg.append('text')
  .attr('transform', 'translate(31,' + ((y(5) + y(-5)) / 2) + ') rotate(-90)')
  .attr('text-anchor', 'middle')
  .style('font-size', '29px')
  .text('Galactic Latitude (degree)');

// legend
const legend = svg.append('g').attr('id', 'legend');

legend.append('rect')
  .attr('x', 82.5)
  .attr('y', 10.5)
  .attr('width', 696)
  .attr('height', 73)
  .attr('rx', 4)
  .attr('fill', '#fff')
  .attr('stroke', '#d0d0d0')
  .attr('stroke-width', 1);

const legendLines = [['Decl. (J2000) = 0°', '#000000'], ['Decl. (J2000) = 35°', '#008000']];
legendLines.forEach(([label, color], i) => {
  const cy = 30 + i * 32;
  legend.append('line')
    .attr('x1', 91).attr('x2', 135)
    .attr('y1', cy).attr('y2', cy)
    .attr('stroke', color)
    .attr('stroke-width', 1.1);
  legend.append('text')
    .attr('x', 152)
    .attr('y', cy)
    .attr('dy', '0.36em')
    .style('font-size', '21.4px')
    .text(label);
});

const legendDots = [['All stars', '#808080', 1.6], ['Positional accuracy  <  10%', '#ff0000', 2.4]];
legendDots.forEach(([label, color, r], i) => {
  const cy = 30 + i * 32;
  legend.append('circle')
    .attr('cx', 422)
    .attr('cy', cy)
    .attr('r', r)
    .attr('fill', color);
  legend.append('text')
    .attr('x', 462)
    .attr('y', cy)
    .attr('dy', '0.36em')
    .style('font-size', '21.4px')
    .style('white-space', 'pre')
    .text(label);
});
</script>
</body>
</html>
